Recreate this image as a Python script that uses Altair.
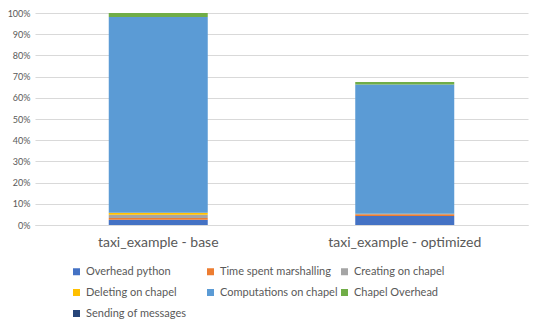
import altair as alt
import pandas as pd

categories = ["taxi_example - base", "taxi_example - optimized"]
series = ["Overhead python", "Time spent marshalling", "Creating on chapel",
          "Deleting on chapel", "Computations on chapel", "Chapel Overhead",
          "Sending of messages"]
colors = ["#4472C4", "#ED7D31", "#A5A5A5", "#FFC000", "#5B9BD5", "#70AD47", "#264478"]
base_vals = [2.5, 0.8, 1.5, 1.0, 92.3, 1.9, 0.0]
opt_vals = [4.2, 0.9, 0.1, 0.1, 61.0, 1.2, 0.0]

rows = []
for cat, vals in zip(categories, [base_vals, opt_vals]):
    for i, (s, v) in enumerate(zip(series, vals)):
        rows.append({"cat": cat, "series": s, "value": v, "ord": i})
df = pd.DataFrame(rows)

FONT = "Lato"

bars = alt.Chart(df).mark_bar(size=99).encode(
    x=alt.X("cat:N", sort=categories, title=None,
            axis=alt.Axis(labelAngle=0, labelFontSize=14, labelColor="#595959",
                          labelPadding=10, ticks=False, domain=True,
                          domainColor="#d9d9d9", labelFont=FONT)),
    y=alt.Y("value:Q", stack="zero", title=None,
            scale=alt.Scale(domain=[0, 100], nice=False),
            axis=alt.Axis(values=list(range(0, 101, 10)), labelExpr="datum.value + '%'",
                          labelFontSize=9, labelColor="#595959", labelPadding=5,
                          ticks=False, domain=False, gridColor="#d9d9d9",
                          labelFont=FONT)),
    color=alt.Color("series:N", sort=series,
                    scale=alt.Scale(domain=series, range=colors),
                    legend=alt.Legend(orient="none", legendX=36, legendY=253,
                                      direction="horizontal",
                                      columns=3, title=None, symbolType="square",
                                      symbolSize=49, symbolStrokeWidth=0,
                                      labelFontSize=11, labelColor="#595959",
                                      labelFont=FONT, gridAlign="all",
                                      columnPadding=1, rowPadding=9,
                                      labelLimit=200, padding=0, offset=0)),
    order=alt.Order("ord:Q", sort="ascending"),
)

chart = bars.properties(
    width=493, height=212,
    autosize=alt.AutoSizeParams(type="none"),
    padding={"left": 27, "top": 5, "right": 4, "bottom": 94},
).configure_view(stroke=None).configure_axisX(grid=False)

chart.save("out.html", embed_options={"renderer": "svg", "actions": False})
